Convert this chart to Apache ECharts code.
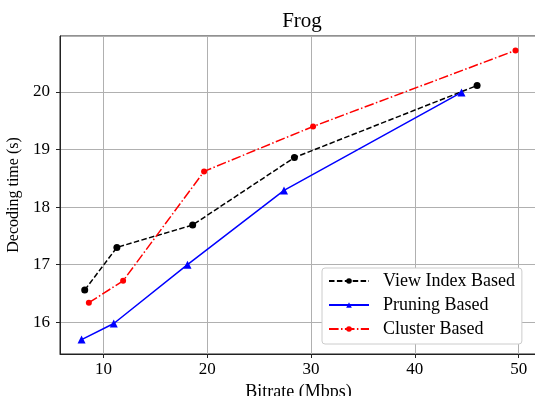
<!DOCTYPE html>
<html>
<head>
<meta charset="utf-8">
<script src="https://cdn.jsdelivr.net/npm/echarts@6/dist/echarts.min.js"></script>
<style>
  html, body { margin: 0; padding: 0; background: #fff; }
  #chart { width: 535px; height: 396px; }
</style>
</head>
<body>
<div id="chart"></div>
<script>
// data
const seriesNames = ['View Index Based', 'Pruning Based', 'Cluster Based']
const viewIndexX = [8.2, 11.3, 18.6, 28.4, 46.0]
const viewIndexY = [16.56, 17.30, 17.69, 18.86, 20.11]
const pruningX = [7.9, 11.0, 18.1, 27.4, 44.5]
const pruningY = [15.70, 15.98, 17.00, 18.29, 19.99]
const clusterX = [8.6, 11.9, 19.7, 30.2, 49.7]
const clusterY = [16.34, 16.72, 18.62, 19.40, 20.72]

const font = 'Liberation Serif'

function pairs(xs, ys) {
  return xs.map((x, i) => [x, ys[i]])
}

const chart = echarts.init(document.getElementById('chart'), null, { renderer: 'canvas' })

const option = {
  animation: false,
  backgroundColor: '#fff',
  title: {
    text: 'Frog',
    left: 297,
    top: 6,
    textAlign: 'center',
    textStyle: { fontFamily: font, fontSize: 21, fontWeight: 'normal', color: '#000' }
  },
  grid: {
    left: 60,
    top: 36,
    right: -2,
    bottom: 42,
    outerBoundsMode: 'none',
    show: true,
    borderColor: '#222',
    borderWidth: 1
  },
  legend: {
    data: seriesNames,
    orient: 'vertical',
    left: 322,
    top: 268,
    padding: [3, 7, 5, 6],
    itemWidth: 40,
    itemHeight: 7,
    itemGap: 4,
    backgroundColor: '#fff',
    borderColor: '#ccc',
    borderWidth: 1,
    borderRadius: 3,
    textStyle: { fontFamily: font, fontSize: 18, color: '#000', lineHeight: 20, padding: [0, 0, 0, 9] }
  },
  xAxis: {
    type: 'value',
    min: 5.82,
    max: 51.77,
    minInterval: 10,
    maxInterval: 10,
    name: 'Bitrate (Mbps)',
    nameLocation: 'middle',
    nameGap: 27,
    nameTextStyle: { fontFamily: font, fontSize: 18, color: '#000' },
    axisLine: { show: true, lineStyle: { color: '#222', width: 1 } },
    axisTick: { show: true, inside: false, length: 4, lineStyle: { color: '#222' } },
    axisLabel: { fontFamily: font, fontSize: 17, color: '#000', margin: 7, showMinLabel: false, showMaxLabel: false },
    splitLine: { show: true, lineStyle: { color: '#b0b0b0', width: 1 } }
  },
  yAxis: {
    type: 'value',
    min: 15.45,
    max: 20.97,
    minInterval: 1,
    maxInterval: 1,
    name: 'Decoding time (s)',
    nameLocation: 'middle',
    nameGap: 31,
    nameTextStyle: { fontFamily: font, fontSize: 16, color: '#000' },
    axisLine: { show: true, lineStyle: { color: '#222', width: 1 } },
    axisTick: { show: true, inside: false, length: 4, lineStyle: { color: '#222' } },
    axisLabel: { fontFamily: font, fontSize: 17, color: '#000', margin: 10, showMinLabel: false, showMaxLabel: false },
    splitLine: { show: true, lineStyle: { color: '#b0b0b0', width: 1 } }
  },
  series: [
    {
      name: seriesNames[0],
      type: 'line',
      data: pairs(viewIndexX, viewIndexY),
      symbol: 'circle',
      symbolSize: 7,
      color: '#000',
      itemStyle: { color: '#000' },
      lineStyle: { color: '#000', width: 1.5, type: [5.5, 2.4] }
    },
    {
      name: seriesNames[1],
      type: 'line',
      data: pairs(pruningX, pruningY),
      symbol: 'triangle',
      symbolSize: 8,
      color: '#0000ff',
      itemStyle: { color: '#0000ff' },
      lineStyle: { color: '#0000ff', width: 1.5 }
    },
    {
      name: seriesNames[2],
      type: 'line',
      data: pairs(clusterX, clusterY),
      symbol: 'circle',
      symbolSize: 6,
      color: '#ff0000',
      itemStyle: { color: '#ff0000' },
      lineStyle: { color: '#ff0000', width: 1.5, type: [9.6, 2.4, 1.5, 2.4] }
    }
  ]
}

chart.setOption(option)
</script>
</body>
</html>
